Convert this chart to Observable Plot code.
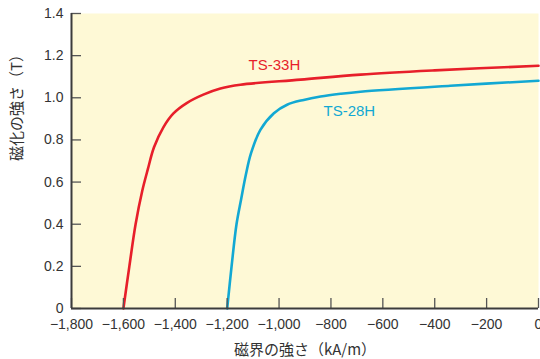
<!DOCTYPE html>
<html>
<head>
<meta charset="utf-8">
<script src="https://cdn.jsdelivr.net/npm/d3@7"></script>
<script src="https://cdn.jsdelivr.net/npm/@observablehq/plot@0.6"></script>
<style>
  html, body { margin: 0; padding: 0; background: #ffffff; }
  #chart svg { display: block; }
</style>
</head>
<body>
<div id="chart"></div>
<script>
// ---- Data ----
const seriesNames = ["TS-33H", "TS-28H"];

// TS-33H: magnetic field H (kA/m) and magnetization (T)
const ts33hH = [-1600, -1577, -1553, -1527, -1506, -1482, -1446, -1408, -1356, -1292, -1226, -1149, -917, -686, -400, 0];
const ts33hM = [0, 0.2, 0.4, 0.56, 0.66, 0.765, 0.86, 0.925, 0.975, 1.015, 1.044, 1.062, 1.086, 1.11, 1.13, 1.152];

// TS-28H
const ts28hH = [-1200, -1183, -1164, -1146, -1128, -1108, -1072, -1020, -969, -905, -840, -763, -686, -340, 0];
const ts28hM = [0, 0.2, 0.4, 0.52, 0.635, 0.737, 0.848, 0.927, 0.967, 0.99, 1.006, 1.019, 1.029, 1.057, 1.081];

// Series label anchors (data coordinates)
const labelH = [-1018, -729];
const labelM = [1.157, 0.938];

// Axes
const xTicks = [-1800, -1600, -1400, -1200, -1000, -800, -600, -400, -200, 0];
const xTickLabels = ["−1,800", "−1,600", "−1,400", "−1,200", "−1,000", "−800", "−600", "−400", "−200", "0"];
const yTicks = [0, 0.2, 0.4, 0.6, 0.8, 1.0, 1.2, 1.4];
const yTickLabels = ["0", "0.2", "0.4", "0.6", "0.8", "1.0", "1.2", "1.4"];
const xTitle = "磁界の強さ（kA/m）";
const yTitle = "磁化の強さ（T）";

// ---- Build tables ----
const colors = ["#e71f2a", "#12a8d3"];
const rows33 = ts33hH.map((h, i) => ({h, m: ts33hM[i]}));
const rows28 = ts28hH.map((h, i) => ({h, m: ts28hM[i]}));
const labels = seriesNames.map((name, i) => ({name, h: labelH[i], m: labelM[i], color: colors[i]}));
const xFmt = new Map(xTicks.map((t, i) => [t, xTickLabels[i]]));
const yFmt = new Map(yTicks.map((t, i) => [t, yTickLabels[i]]));

const W = 540, H = 359;
const mL = 71, mR = 2, mT = 13, mB = 51;
const innerW = W - mL - mR, innerH = H - mT - mB;
const axisColor = "#3c3c3c";
const textFont = "'Liberation Sans', Arial, Helvetica, sans-serif";
const cjkFont = "'Noto Sans CJK JP', 'Liberation Sans', sans-serif";

const chart = Plot.plot({
  width: W,
  height: H,
  marginLeft: mL,
  marginRight: mR,
  marginTop: mT,
  marginBottom: mB,
  style: {fontFamily: textFont, fontSize: "14px", color: "#333", background: "#ffffff", overflow: "visible"},
  x: {domain: [-1800, 0], label: null},
  y: {domain: [0, 1.4], label: null},
  marks: [
    Plot.frame({fill: "#fef9d6", stroke: null}),
    Plot.line(rows33, {x: "h", y: "m", stroke: colors[0], strokeWidth: 2.6, curve: "catmull-rom"}),
    Plot.line(rows28, {x: "h", y: "m", stroke: colors[1], strokeWidth: 2.6, curve: "catmull-rom"}),
    Plot.text(labels, {x: "h", y: "m", text: "name", fill: "color", fontSize: 15, textAnchor: "middle", lineAnchor: "middle"}),
    // inward ticks
    Plot.tickX(xTicks, {x: d => d, stroke: "#555", strokeWidth: 1.3, insetTop: innerH - 10}),
    Plot.tickY(yTicks, {y: d => d, stroke: "#555", strokeWidth: 1.3, insetRight: innerW - 10}),
    // axis lines
    Plot.ruleX([-1800], {stroke: axisColor, strokeWidth: 2}),
    Plot.ruleY([0], {stroke: axisColor, strokeWidth: 2}),
    // tick labels
    Plot.axisX(xTicks, {tickSize: 0, tickPadding: 11, tickFormat: d => xFmt.get(d), label: null, fontSize: 14, fill: "#333"}),
    Plot.axisY(yTicks, {tickSize: 0, tickPadding: 8, tickFormat: d => yFmt.get(d), label: null, fontSize: 14, fill: "#333"}),
    // axis titles
    Plot.text([xTitle], {text: d => d, frameAnchor: "bottom", dy: 42, lineAnchor: "middle", fontSize: 15, fontFamily: cjkFont, fill: "#333"}),
    Plot.text([yTitle], {text: d => d, frameAnchor: "left", dx: -54, rotate: -90, lineAnchor: "middle", fontSize: 15, fontFamily: cjkFont, fill: "#333"})
  ]
});
document.getElementById("chart").appendChild(chart);
</script>
</body>
</html>
